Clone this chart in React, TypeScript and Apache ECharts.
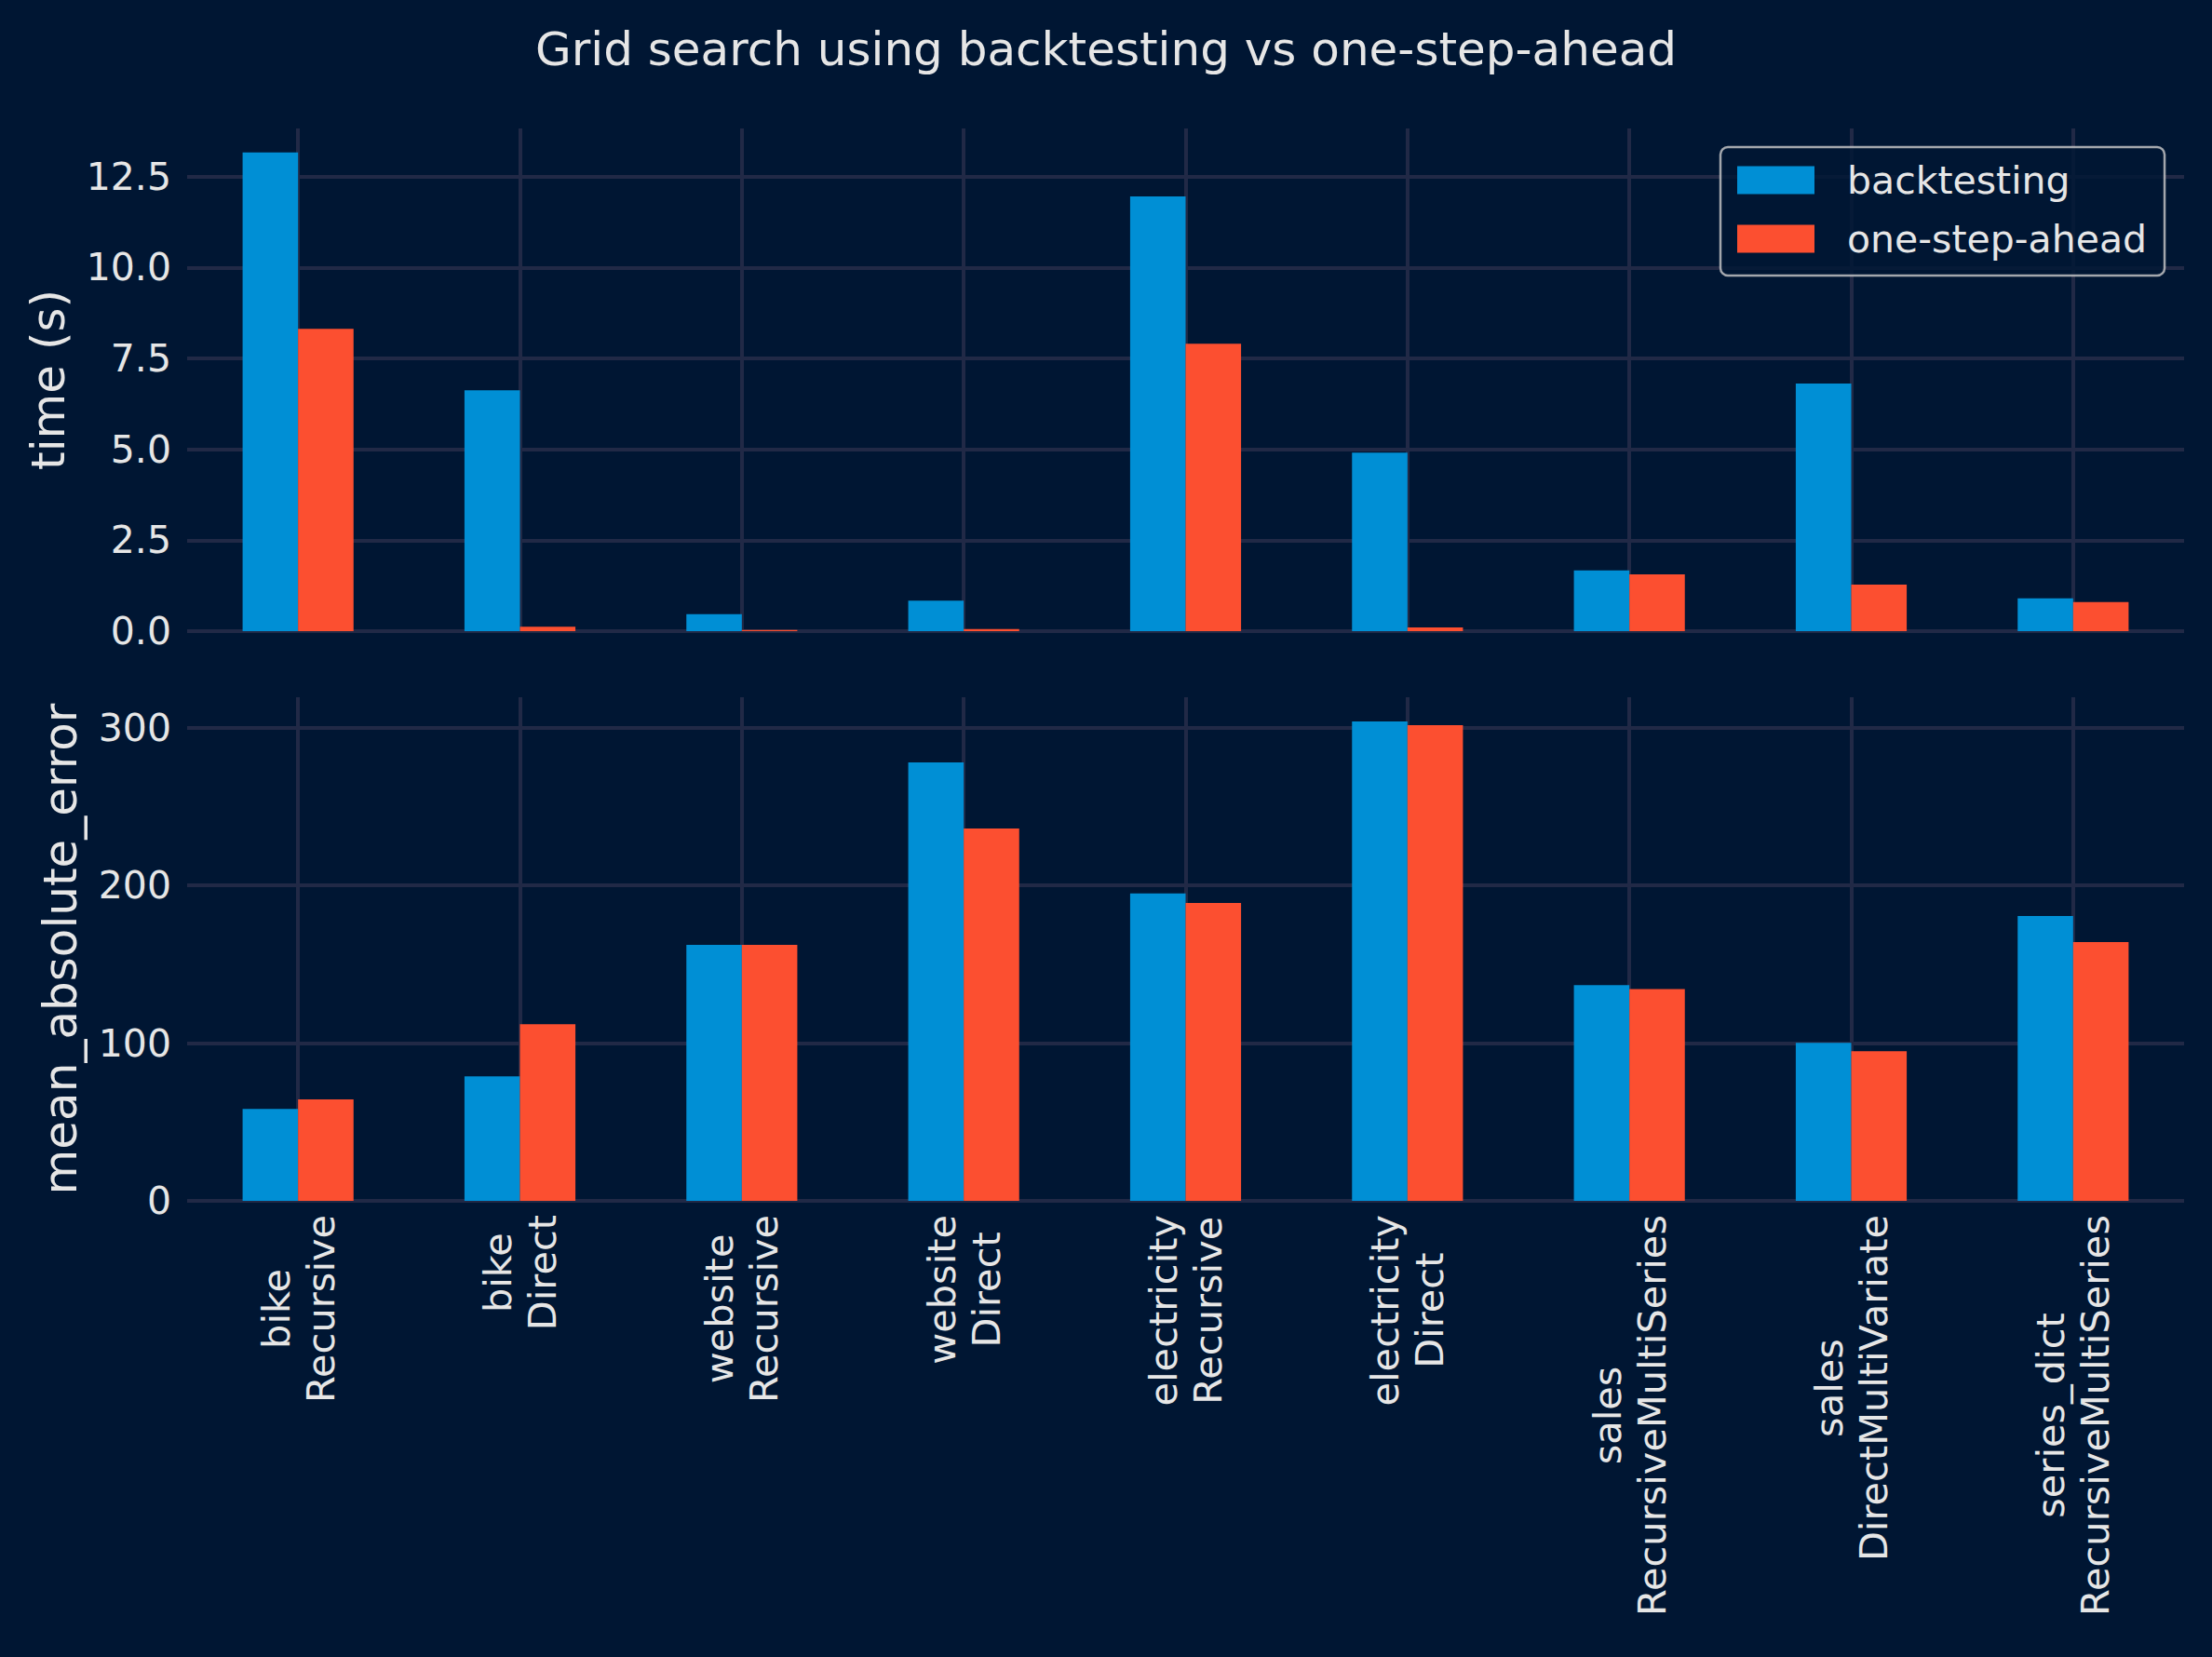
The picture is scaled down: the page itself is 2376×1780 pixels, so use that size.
import React, { useEffect, useRef } from 'react';
import * as echarts from 'echarts';

const categories = [
  'bike\nRecursive',
  'bike\nDirect',
  'website\nRecursive',
  'website\nDirect',
  'electricity\nRecursive',
  'electricity\nDirect',
  'sales\nRecursiveMultiSeries',
  'sales\nDirectMultiVariate',
  'series_dict\nRecursiveMultiSeries'
];

const timeBacktesting = [13.16, 6.62, 0.47, 0.84, 11.95, 4.91, 1.67, 6.81, 0.9];
const timeOneStep = [8.31, 0.12, 0.03, 0.06, 7.9, 0.1, 1.56, 1.28, 0.8];
const maeBacktesting = [58.2, 78.9, 162.3, 277.9, 194.9, 303.9, 136.7, 100.1, 180.6];
const maeOneStep = [64.3, 111.9, 162.3, 236.0, 188.8, 301.5, 134.3, 94.8, 164.0];

const seriesNames = ['backtesting', 'one-step-ahead'];
const colors = ['#008fd5', '#fc4f30'];

const BG = '#001633';
const GRID = '#212946';
const TEXT = '#e6e6e6';
const FONT = 'DejaVu Sans';

// helper axis: points at band edges and band centres, gridlines only at centres
const centreSlots = Array.from({ length: categories.length * 2 + 1 }, (_, i) => String(i));

const App: React.FC = () => {
  const chartRef = useRef<HTMLDivElement>(null);

  useEffect(() => {
    if (!chartRef.current) return;
    const chart = echarts.init(chartRef.current, undefined, { renderer: 'svg' });

    const isMultiple = (v: number, step: number) =>
      Math.abs(v / step - Math.round(v / step)) < 1e-6;

    const valueAxisBase = {
      type: 'value' as const,
      min: 0,
      axisLine: { show: false },
      axisTick: { show: false },
      splitLine: { show: true, showMaxLine: false, lineStyle: { color: GRID, width: 4 } },
      nameLocation: 'middle' as const,
      nameRotate: 90,
      nameTextStyle: { color: TEXT, fontSize: 50, fontFamily: FONT }
    };

    const catAxisBase = {
      type: 'category' as const,
      data: categories,
      axisLine: { show: false },
      axisTick: { show: false },
      splitLine: { show: false }
    };

    const gridAxis = (gridIndex: number) => ({
      type: 'category' as const,
      gridIndex,
      data: centreSlots,
      boundaryGap: false,
      axisLine: { show: false },
      axisTick: { show: false },
      axisLabel: { show: false },
      splitLine: {
        show: true,
        interval: (idx: number) => idx % 2 === 1,
        lineStyle: { color: GRID, width: 4 }
      }
    });

    const barSeries = (name: string, data: number[], color: string, axisIndex: number) => ({
      name,
      type: 'bar' as const,
      xAxisIndex: axisIndex,
      yAxisIndex: axisIndex,
      data,
      barWidth: '25%',
      barGap: '0%',
      itemStyle: { color }
    });

    const option = {
      backgroundColor: BG,
      animation: false,
      textStyle: { fontFamily: FONT },
      title: {
        text: 'Grid search using backtesting vs one-step-ahead',
        left: 'center',
        top: 23,
        textStyle: { color: TEXT, fontSize: 50, fontWeight: 'normal', fontFamily: FONT }
      },
      legend: {
        data: seriesNames,
        left: 1848,
        top: 158,
        orient: 'vertical',
        icon: 'rect',
        itemWidth: 83,
        itemHeight: 30,
        itemGap: 22,
        padding: [15, 19, 19, 18],
        backgroundColor: 'rgba(0,22,51,0.8)',
        borderColor: 'rgba(204,204,204,0.8)',
        borderWidth: 2.5,
        borderRadius: 8,
        textStyle: {
          color: TEXT,
          fontSize: 41,
          lineHeight: 41,
          fontFamily: FONT,
          padding: [0, 0, 0, 30]
        }
      },
      grid: [
        { left: 201, right: 30, top: 138, height: 540 },
        { left: 201, right: 30, top: 749, height: 541 }
      ],
      xAxis: [
        { ...catAxisBase, gridIndex: 0, axisLabel: { show: false } },
        {
          ...catAxisBase,
          gridIndex: 1,
          axisLabel: {
            show: true,
            interval: 0,
            rotate: 90,
            margin: 15,
            formatter: (v: string) => v.split('\n').map((s) => `{c|${s}}`).join('\n'),
            rich: {
              c: { align: 'center', color: TEXT, fontSize: 41.5, fontFamily: FONT, lineHeight: 48 }
            }
          }
        },
        gridAxis(0),
        gridAxis(1)
      ],
      yAxis: [
        {
          ...valueAxisBase,
          gridIndex: 0,
          max: 13.82,
          interval: 2.5,
          name: 'time (s)',
          nameGap: 124,
          axisLabel: {
            color: TEXT,
            fontSize: 41,
            fontFamily: FONT,
            margin: 17,
            formatter: (v: number) => (isMultiple(v, 2.5) ? v.toFixed(1) : '')
          }
        },
        {
          ...valueAxisBase,
          gridIndex: 1,
          max: 319.2,
          interval: 100,
          name: 'mean_absolute_error',
          nameGap: 111,
          axisLabel: {
            color: TEXT,
            fontSize: 41,
            fontFamily: FONT,
            margin: 17,
            formatter: (v: number) => (isMultiple(v, 100) ? String(Math.round(v)) : '')
          }
        }
      ],
      series: [
        barSeries(seriesNames[0], timeBacktesting, colors[0], 0),
        barSeries(seriesNames[1], timeOneStep, colors[1], 0),
        barSeries(seriesNames[0], maeBacktesting, colors[0], 1),
        barSeries(seriesNames[1], maeOneStep, colors[1], 1)
      ]
    };

    chart.setOption(option);

    return () => {
      chart.dispose();
    };
  }, []);

  return (
    <div
      ref={chartRef}
      style={{ position: 'fixed', left: 0, top: 0, width: 2376, height: 1780, background: BG }}
    />
  );
};

export default App;
